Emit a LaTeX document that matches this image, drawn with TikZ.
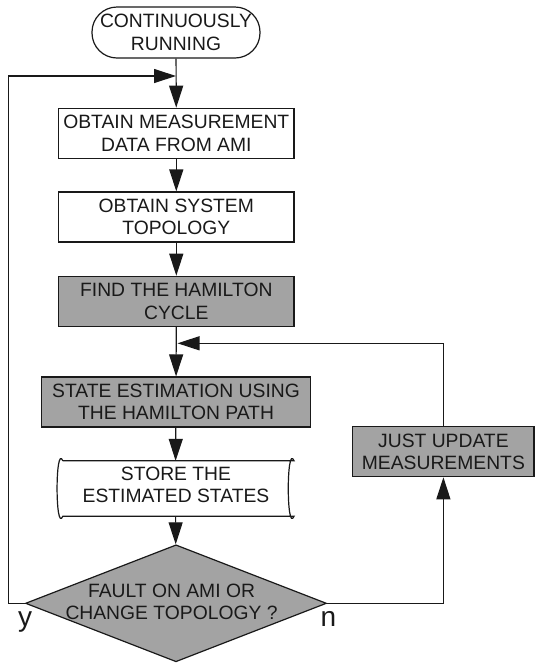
\documentclass[tikz,border=0pt]{standalone}
\usepackage{fontspec}
\setmainfont{Liberation Sans}
\usetikzlibrary{arrows.meta,shapes.geometric}

\definecolor{boxgray}{RGB}{163,163,163}
\definecolor{ink}{RGB}{25,25,25}

\tikzset{
  base/.style={font=\fontsize{19.3}{22.3}\selectfont, align=center, text=ink, inner sep=0pt},
  proc/.style={base, rectangle, draw=ink, line width=1.2pt, minimum width=235.5pt, minimum height=50pt},
  gproc/.style={proc, fill=boxgray},
  term/.style={base, rectangle, draw=ink, line width=1.2pt, rounded corners=25pt, minimum width=168pt, minimum height=51pt},
  storebox/.style={base, rectangle, minimum width=236.5pt, minimum height=55pt},
  decision/.style={diamond, draw=ink, fill=boxgray, line width=1.2pt, inner sep=0pt, minimum width=301pt, minimum height=117pt},
  yn/.style={font=\fontsize{28}{30}\selectfont, text=ink, inner sep=0pt, anchor=base},
  arr/.style={draw=ink, line width=1.2pt, -{Triangle[length=22pt,width=14pt]}},
  ln/.style={draw=ink, line width=1.2pt}
}

\begin{document}
\begin{tikzpicture}[x=1pt, y=-1pt]
  \useasboundingbox (0,0) rectangle (535,665);

  % main column
  \node[term]  (start) at (176,32.5)   {CONTINUOUSLY\\RUNNING};
  \node[proc]  (meas)  at (176.3,133.3) {OBTAIN MEASUREMENT\\DATA FROM AMI};
  \node[proc]  (topo)  at (176.3,217)   {OBTAIN SYSTEM\\TOPOLOGY};
  \node[gproc] (ham)   at (176.3,301.3) {FIND THE HAMILTON\\CYCLE};
  \node[gproc, minimum width=268.6pt] (est) at (176,402) {STATE ESTIMATION USING\\THE HAMILTON PATH};
  \node[storebox] (store) at (175.6,488.5) {};
  \node[decision] (dec) at (176,603.3) {};
  \node[base] (dectxt) at (171.5,602) {FAULT ON AMI OR\\CHANGE TOPOLOGY ?};

  % side branch
  \node[gproc, minimum width=181.3pt] (upd) at (443.4,451.7) {JUST UPDATE\\MEASUREMENTS};

  % stored-data outline and its text
  \draw[ln, fill=white]
    ([xshift=5.7pt]store.north west) -- (store.north east)
    .. controls ([xshift=-7.7pt,yshift=18pt]store.north east) and ([xshift=-7.7pt,yshift=-18pt]store.south east) .. (store.south east)
    -- ([xshift=5.7pt]store.south west)
    .. controls ([xshift=-2pt,yshift=-18pt]store.south west) and ([xshift=-2pt,yshift=18pt]store.north west) .. ([xshift=5.7pt]store.north west);
  \node[base] (storetxt) at (176,484.6) {STORE THE\\ESTIMATED STATES};

  % junction points
  \coordinate (j1) at (176,76);
  \coordinate (j2) at (176,343.3);
  \coordinate (lft) at (8.5,76);

  % connectors
  \draw[arr] (start) -- (meas);
  \draw[arr] (meas) -- (topo);
  \draw[arr] (topo) -- (ham);
  \draw[arr] (ham) -- (est);
  \draw[arr] (est) -- (store.north);
  \draw[arr] (store.south) -- (dec);
  \draw[arr] (dec.west) -| (lft) -- (j1);
  \draw[arr] (dec.east) -| (upd.south);
  \draw[arr] (upd.north) |- ([xshift=1.5pt]j2);

  % branch labels
  \node[yn] (ylab) at (25,626) {y};
  \node[yn] (nlab) at (328.3,626) {n};
\end{tikzpicture}
\end{document}
